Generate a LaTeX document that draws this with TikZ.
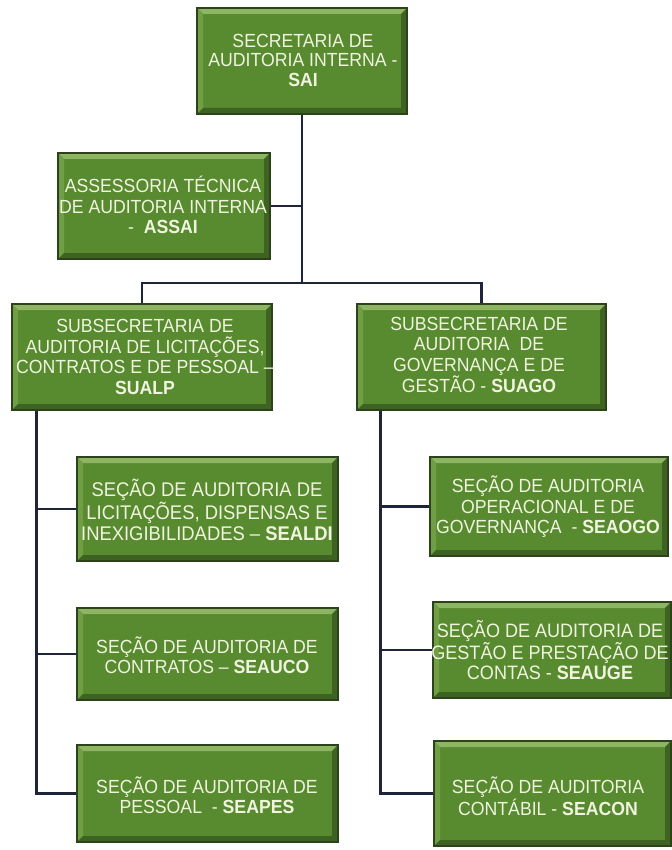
\documentclass[tikz,border=0pt]{standalone}
\usepackage{fontspec}
\setmainfont{Liberation Sans}[FakeStretch=0.93]
\usepackage{tikz}
\usetikzlibrary{calc}
\usepackage{xcolor}

\definecolor{boxgreen}{RGB}{88,138,48}
\definecolor{boxrim}{RGB}{44,66,26}
\definecolor{bevlight}{RGB}{142,182,98}
\definecolor{bevside}{RGB}{112,158,68}
\definecolor{bevdark}{RGB}{62,98,34}
\definecolor{boxtext}{RGB}{240,244,222}
\definecolor{linkcol}{RGB}{30,36,58}

\tikzset{unit/.style={rectangle, fill=boxgreen, draw=boxrim, line width=1.2pt, inner sep=0pt,
  path picture={
    \fill[bevlight] (path picture bounding box.north west) -- (path picture bounding box.north east)
      -- ([shift={(-6pt,-6pt)}]path picture bounding box.north east) -- ([shift={(6pt,-6pt)}]path picture bounding box.north west) -- cycle;
    \fill[bevside] (path picture bounding box.north west) -- ([shift={(6pt,-6pt)}]path picture bounding box.north west)
      -- ([shift={(6pt,6pt)}]path picture bounding box.south west) -- (path picture bounding box.south west) -- cycle;
    \fill[bevdark] (path picture bounding box.north east) -- ([shift={(-6pt,-6pt)}]path picture bounding box.north east)
      -- ([shift={(-6pt,6pt)}]path picture bounding box.south east) -- (path picture bounding box.south east) -- cycle;
    \fill[bevdark] (path picture bounding box.south west) -- ([shift={(6pt,6pt)}]path picture bounding box.south west)
      -- ([shift={(-6pt,6pt)}]path picture bounding box.south east) -- (path picture bounding box.south east) -- cycle;
  }}}
\tikzset{unittext/.style={align=center, text=boxtext, font=\fontsize{19}{20.5}\selectfont, inner sep=0pt}}
\tikzset{link/.style={draw=linkcol, line width=2.2pt}}

\begin{document}
\begin{tikzpicture}[x=1pt, y=-1pt]
  \useasboundingbox[fill=white] (0,0) rectangle (671,850);

  % boxes
  \node[unit, minimum width=210pt, minimum height=106pt] (sai) at (302,61) {};
  \node[unit, minimum width=212pt, minimum height=106pt] (assai) at (164,206) {};
  \node[unit, minimum width=260pt, minimum height=106pt] (sualp) at (142,357) {};
  \node[unit, minimum width=249pt, minimum height=106pt] (suago) at (481.5,357) {};
  \node[unit, minimum width=261pt, minimum height=104pt] (sealdi) at (207.5,509) {};
  \node[unit, minimum width=261pt, minimum height=92pt] (seauco) at (207.5,654) {};
  \node[unit, minimum width=261pt, minimum height=97pt] (seapes) at (207.5,793.5) {};
  \node[unit, minimum width=238pt, minimum height=99pt] (seaogo) at (549,506.5) {};
  \node[unit, minimum width=238pt, minimum height=96pt] (seauge) at (552,650) {};
  \node[unit, minimum width=237pt, minimum height=105pt] (seacon) at (552.5,793.5) {};

  % texts
  \node[unittext, font=\fontsize{19}{19.5}\selectfont] (sai-t) at (303,60) {SECRETARIA DE\\AUDITORIA INTERNA -\\\textbf{SAI}};
  \node[unittext] (assai-t) at (163,205) {ASSESSORIA TÉCNICA\\DE AUDITORIA INTERNA\\- \ \textbf{ASSAI}};
  \node[unittext] (sualp-t) at (145,357) {SUBSECRETARIA DE\\AUDITORIA DE LICITAÇÕES,\\CONTRATOS E DE PESSOAL –\\\textbf{SUALP}};
  \node[unittext] (suago-t) at (479,355) {SUBSECRETARIA DE\\AUDITORIA \ DE\\GOVERNANÇA E DE\\GESTÃO - \textbf{SUAGO}};
  \node[unittext, font=\fontsize{19.8}{21}\selectfont] (sealdi-t) at (207,510) {SEÇÃO DE AUDITORIA DE\\LICITAÇÕES, DISPENSAS E\\INEXIGIBILIDADES – \textbf{SEALDI}};
  \node[unittext] (seauco-t) at (207,655) {SEÇÃO DE AUDITORIA DE\\CONTRATOS – \textbf{SEAUCO}};
  \node[unittext] (seapes-t) at (207,795) {SEÇÃO DE AUDITORIA DE\\PESSOAL \ - \textbf{SEAPES}};
  \node[unittext] (seaogo-t) at (548,507) {SEÇÃO DE AUDITORIA\\OPERACIONAL E DE\\GOVERNANÇA \ - \textbf{SEAOGO}};
  \node[unittext, font=\fontsize{19.4}{20.5}\selectfont] (seauge-t) at (550,650) {SEÇÃO DE AUDITORIA DE\\GESTÃO E PRESTAÇÃO DE\\CONTAS - \textbf{SEAUGE}};
  \node[unittext] (seacon-t) at (548,796) {SEÇÃO DE AUDITORIA\\CONTÁBIL - \textbf{SEACON}};

  % connectors
  \coordinate (bar) at (302,283);
  \coordinate (lspine) at ([xshift=25pt]sualp.south west);
  \coordinate (rspine) at ([xshift=24pt]suago.south west);
  \draw[link] (sai.south) -- (bar);
  \draw[link] (assai.east) -- (assai.east -| bar);
  \draw[link] (sualp.north) |- (bar) -| (suago.north);
  \draw[link] (lspine) |- (seapes.west);
  \draw[link] (sealdi.west) -- (sealdi.west -| lspine);
  \draw[link] (seauco.west) -- (seauco.west -| lspine);
  \draw[link] (rspine) |- (seacon.west);
  \draw[link] (seaogo.west) -- (seaogo.west -| rspine);
  \draw[link] (seauge.west) -- (seauge.west -| rspine);
\end{tikzpicture}
\end{document}
